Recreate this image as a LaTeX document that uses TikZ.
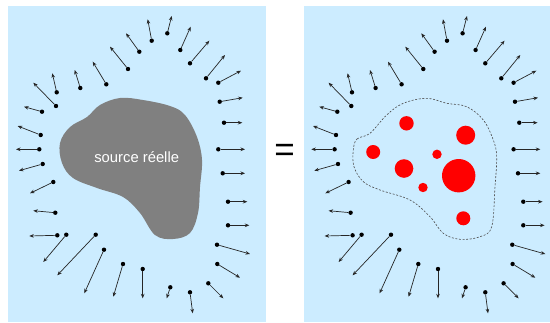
\documentclass[tikz,border=0pt]{standalone}
\usepackage{fontspec}
\setmainfont{Liberation Sans}
\usepackage{tikz}
\usetikzlibrary{arrows.meta,positioning}

\definecolor{skyblue}{RGB}{204,236,255}
\definecolor{blobgray}{RGB}{128,128,128}

\tikzset{
  panel/.style={fill=skyblue,draw=none},
  dot/.style={circle,fill=black,inner sep=0pt,minimum size=4.4pt},
  vec/.style={->,line width=0.7pt,black!85},
  sphere/.style={fill=red,draw=none},
}

% tail x / tail y / head x / head y
\def\fieldlist{167.3/33.3/171.7/16, 151.7/40.7/147.7/19.3, 139.3/51.7/126/33.3,
  180.3/50/190.7/26.7, 190/63.3/209.3/40.7, 128/69/110/46.7, 206/78.3/225/55,
  218.3/82.7/241/70.7, 106.3/84.3/92.7/61.7, 80.3/88/74.7/70, 56.7/92.3/52.3/73.3,
  56/106/33.3/82.7, 42/111.7/24/106.7, 219.7/101.7/242.7/97.7, 40.7/135/17.7/126,
  224/122.7/242.3/122.7, 39.3/149.3/16/149.3, 218.3/149.3/245/149.3,
  42.7/164/19/170.7, 222.7/173.3/245/173.3, 53.3/182/30/193.3,
  228/201.7/247.3/201.7, 55.3/212.7/33.3/210.7, 228/225.3/249.3/225.3,
  57.3/235.3/29.3/236, 66.3/234.7/43.3/262, 95.7/234.7/57.3/275.3,
  217/244.7/250/254, 104/249.7/84.3/293.3, 217.3/264/240/277.7,
  123/264/113.3/296.7, 142.7/269/142.7/298.3, 208.3/283.3/223.3/298.3,
  170.3/287.3/166.7/298.3, 190/292.3/192.7/313.3}

\begin{document}
\begin{tikzpicture}[x=1pt,y=-1pt,>={Stealth[length=4.5pt,width=3.6pt]}]
  \useasboundingbox (0,0) rectangle (550,322);

  % the two panels
  \fill[panel] (8.3,6) rectangle (266,322);
  \fill[panel] (304.3,6) rectangle (550,322);

  % real source
  \fill[blobgray] plot[smooth cycle,tension=0.6] coordinates {
    (60,143) (70,127) (87,117) (100,105) (120,98) (143,100) (170,106)
    (185,115) (197,137) (202,160) (200,187) (198,213) (190,233) (173,239)
    (155,235) (140,213) (123,197) (97,188) (73,178) (62,163)};
  \node[text=white,font=\fontsize{14.8}{16}\selectfont] (source) at (136.7,157) {source réelle};

  \node[font=\fontsize{35}{35}\selectfont] (equal) at (284.7,153) {=};

  % equivalent sources
  \draw[black!70,line width=0.6pt,dash pattern=on 2pt off 1.6pt]
    plot[smooth cycle,tension=0.6] coordinates {
    (353.3,150) (357,139) (370,133.3) (386.7,115) (403.3,103.3) (426.7,98.3)
    (446.7,103.3) (466.7,106.7) (483.3,120) (493.3,140) (496.7,156.7)
    (495,186.7) (491.7,226.7) (480,236.7) (460,239.3) (443.3,233.3)
    (430,216.7) (410,200) (380,190) (363.3,181.7) (354,166.7)};
  \foreach \cx/\cy/\r [count=\k] in {406.5/123.3/7.2, 465.7/135.2/9.5, 373.2/152/7,
      437/154.3/4.7, 404/168.5/9.3, 458.7/175.7/16.7, 423/187.5/4.7, 463.3/218.3/7}
    \fill[sphere] (\cx,\cy) circle (\r) coordinate (s\k);

  % field vectors on both panels
  \foreach \dx [count=\p] in {0,295.3} {
    \foreach \tx/\ty/\hx/\hy [count=\i] in \fieldlist {
      \node[dot] (t\p-\i) at (\tx+\dx,\ty) {};
      \coordinate (h\p-\i) at (\hx+\dx,\hy);
      \draw[vec] (t\p-\i) -- (h\p-\i);
    }
  }
\end{tikzpicture}
\end{document}
